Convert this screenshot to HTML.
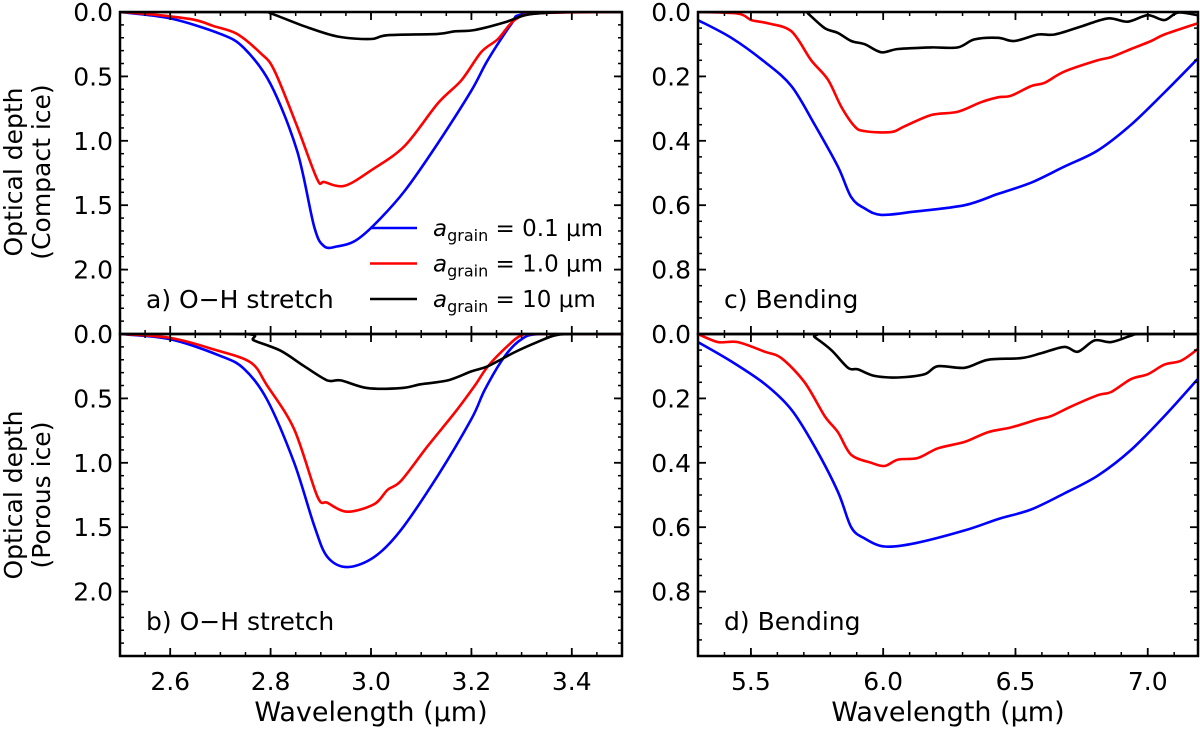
<!DOCTYPE html>
<html><head><meta charset="utf-8"><style>
body{margin:0;background:#fff;}
svg text{font-family:"DejaVu Sans","Liberation Sans",sans-serif;fill:#000;}
</style></head><body>
<svg id="fig" xmlns="http://www.w3.org/2000/svg" width="1200" height="728" viewBox="0 0 1200 728"></svg>
<script>
// Panel a: compact ice, O-H stretch
const aBlueX=[2.5,2.6,2.7,2.747,2.8,2.853,2.887,2.907,2.933,2.967,3.007,3.067,3.133,3.2,3.233,3.28,3.3,3.4,3.5];
const aBlueY=[0,0.05,0.17,0.28,0.56,1.08,1.67,1.82,1.82,1.78,1.65,1.39,1.02,0.61,0.37,0.09,0.02,0,0];
const aRedX=[2.5,2.567,2.647,2.687,2.733,2.78,2.807,2.853,2.893,2.907,2.947,3.0,3.067,3.133,3.18,3.22,3.253,3.287,3.333,3.5];
const aRedY=[0,0.02,0.06,0.11,0.17,0.32,0.45,0.89,1.30,1.32,1.35,1.23,1.04,0.71,0.53,0.31,0.21,0.06,0.01,0];
const aBlackX=[2.5,2.78,2.8,2.867,2.933,3.0,3.033,3.133,3.167,3.207,3.267,3.313,3.393,3.5];
const aBlackY=[0,0,0.01,0.11,0.19,0.21,0.18,0.17,0.15,0.14,0.08,0.02,0,0];
// Panel b: porous ice, O-H stretch
const bBlueX=[2.5,2.6,2.7,2.747,2.793,2.847,2.887,2.913,2.953,3.007,3.06,3.133,3.2,3.227,3.267,3.3,3.34,3.5];
const bBlueY=[0,0.04,0.17,0.27,0.51,1.0,1.49,1.73,1.81,1.73,1.52,1.10,0.66,0.43,0.17,0.04,0,0];
const bRedX=[2.5,2.6,2.687,2.76,2.793,2.847,2.893,2.913,2.953,3.007,3.033,3.06,3.113,3.167,3.207,3.233,3.273,3.3,3.333,3.5];
const bRedY=[0,0.03,0.12,0.22,0.40,0.74,1.26,1.31,1.38,1.32,1.21,1.14,0.87,0.61,0.40,0.25,0.09,0.01,0,0];
const bBlackX=[2.5,2.747,2.767,2.82,2.867,2.913,2.94,2.993,3.06,3.1,3.153,3.2,3.233,3.287,3.333,3.367,3.4,3.5];
const bBlackY=[0,0,0.05,0.13,0.25,0.36,0.36,0.42,0.42,0.39,0.36,0.29,0.25,0.14,0.06,0.01,0,0];
// Panel c: compact ice, bending
const cBlueX=[5.30,5.426,5.552,5.653,5.741,5.829,5.879,5.930,5.993,6.119,6.308,6.434,6.559,6.685,6.811,6.937,7.063,7.189];
const cBlueY=[0.025,0.08,0.155,0.23,0.35,0.48,0.575,0.61,0.63,0.62,0.60,0.565,0.53,0.48,0.43,0.35,0.25,0.145];
const cRedX=[5.30,5.451,5.502,5.564,5.653,5.728,5.791,5.842,5.892,5.930,6.03,6.081,6.182,6.282,6.37,6.434,6.484,6.559,6.61,6.685,6.811,6.862,6.937,7.013,7.063,7.189];
const cRedY=[0,0.005,0.025,0.035,0.06,0.15,0.21,0.295,0.355,0.37,0.373,0.355,0.32,0.31,0.28,0.265,0.26,0.23,0.22,0.185,0.15,0.14,0.115,0.09,0.07,0.035];
const cBlackX=[5.30,5.703,5.716,5.779,5.829,5.879,5.930,5.993,6.056,6.182,6.282,6.345,6.434,6.496,6.585,6.648,6.748,6.849,6.925,7.0,7.063,7.114,7.189];
const cBlackY=[0,0,0.005,0.05,0.065,0.09,0.10,0.125,0.115,0.11,0.11,0.085,0.08,0.09,0.07,0.07,0.045,0.02,0.03,0.01,0.025,0.002,0.01];
// Panel d: porous ice, bending
const dBlueX=[5.30,5.426,5.552,5.653,5.741,5.829,5.879,5.930,6.005,6.119,6.308,6.434,6.559,6.685,6.811,6.937,7.063,7.189];
const dBlueY=[0.025,0.085,0.155,0.235,0.35,0.49,0.60,0.635,0.66,0.65,0.61,0.575,0.545,0.495,0.44,0.36,0.255,0.14];
const dRedX=[5.30,5.376,5.451,5.552,5.615,5.703,5.779,5.829,5.879,5.955,6.005,6.056,6.131,6.207,6.308,6.396,6.484,6.585,6.635,6.711,6.811,6.862,6.937,7.0,7.063,7.126,7.189];
const dRedY=[0,0.025,0.025,0.055,0.075,0.15,0.255,0.305,0.375,0.40,0.41,0.39,0.385,0.355,0.335,0.305,0.29,0.265,0.255,0.225,0.19,0.18,0.14,0.125,0.095,0.083,0.047];
const dBlackX=[5.30,5.716,5.741,5.804,5.867,5.905,5.967,6.056,6.156,6.207,6.308,6.396,6.522,6.597,6.685,6.736,6.799,6.862,6.937,6.975,7.189];
const dBlackY=[0,0,0.01,0.05,0.105,0.11,0.13,0.135,0.125,0.10,0.105,0.08,0.075,0.06,0.04,0.055,0.02,0.025,0.005,0,0];

const leftXTicks=[2.6,2.8,3.0,3.2,3.4];
const leftXTickLabels=["2.6","2.8","3.0","3.2","3.4"];
const rightXTicks=[5.5,6.0,6.5,7.0];
const rightXTickLabels=["5.5","6.0","6.5","7.0"];
const leftYTicks=[0,0.5,1.0,1.5,2.0];
const leftYTickLabels=["0.0","0.5","1.0","1.5","2.0"];
const rightYTicks=[0,0.2,0.4,0.6,0.8];
const rightYTickLabels=["0.0","0.2","0.4","0.6","0.8"];
const legendLabels=["0.1 μm","1.0 μm","10 μm"];
const colors=["#0000ff","#ff0000","#000000"];

const NS="http://www.w3.org/2000/svg";
const svg=document.getElementById('fig');
function mk(tag,attrs,parent){const e=document.createElementNS(NS,tag);for(const k in attrs)e.setAttribute(k,attrs[k]);(parent||svg).appendChild(e);return e;}

function smoothPath(P){
  let d='M'+P[0][0].toFixed(1)+' '+P[0][1].toFixed(1);
  for(let i=0;i<P.length-1;i++){
    const p0=P[Math.max(0,i-1)],p1=P[i],p2=P[i+1],p3=P[Math.min(P.length-1,i+2)];
    const t=0.16;
    const c1=[p1[0]+(p2[0]-p0[0])*t,p1[1]+(p2[1]-p0[1])*t];
    const c2=[p2[0]-(p3[0]-p1[0])*t,p2[1]-(p3[1]-p1[1])*t];
    d+=' C'+c1[0].toFixed(1)+' '+c1[1].toFixed(1)+' '+c2[0].toFixed(1)+' '+c2[1].toFixed(1)+' '+p2[0].toFixed(1)+' '+p2[1].toFixed(1);
  }
  return d;
}

function panel(o){
  const g=mk('g',{});
  
  
  const sx=v=>o.x0+(v-o.xmin)/(o.xmax-o.xmin)*(o.x1-o.x0);
  const sy=v=>o.y0+(v-o.ymin)/(o.ymax-o.ymin)*(o.y1-o.y0);
  const clip=mk('clipPath',{id:'clip-'+o.name},g);
  mk('rect',{x:o.x0,y:o.y0,width:o.x1-o.x0,height:o.y1-o.y0},clip);
  o.series.forEach((s,i)=>{
    const pts=s.x.map((xv,j)=>[sx(xv),sy(s.y[j])]);
    const p=mk('path',{d:smoothPath(pts),fill:'none',stroke:colors[i],'stroke-width':2.6,'stroke-linejoin':'round','clip-path':'url(#clip-'+o.name+')'},g);
    
    
  });
  for(let v=Math.ceil(o.xmin/o.xminor-1e-6)*o.xminor;v<=o.xmax+1e-9;v+=o.xminor){
    const X=sx(v);
    mk('line',{x1:X,x2:X,y1:o.y1,y2:o.y1-4,stroke:'#000','stroke-width':1.5},g);
    mk('line',{x1:X,x2:X,y1:o.y0,y2:o.y0+4,stroke:'#000','stroke-width':1.5},g);
  }
  for(let v=o.ymin;v<=o.ymax+1e-9;v+=o.yminor){
    const Y=sy(v);
    mk('line',{x1:o.x0,x2:o.x0+4,y1:Y,y2:Y,stroke:'#000','stroke-width':1.5},g);
    mk('line',{x1:o.x1,x2:o.x1-4,y1:Y,y2:Y,stroke:'#000','stroke-width':1.5},g);
  }
  o.xt.forEach((v,i)=>{
    const X=sx(v);
    mk('line',{x1:X,x2:X,y1:o.y1,y2:o.y1-8,stroke:'#000','stroke-width':1.8},g);
    mk('line',{x1:X,x2:X,y1:o.y0,y2:o.y0+8,stroke:'#000','stroke-width':1.8},g);
    if(o.showX){
      const t=mk('text',{x:X,y:o.y1+34,'font-size':25,'text-anchor':'middle'},g);
      t.textContent=o.xtl[i];
      
      
    }
  });
  o.yt.forEach((v,i)=>{
    const Y=sy(v);
    mk('line',{x1:o.x0,x2:o.x0+8,y1:Y,y2:Y,stroke:'#000','stroke-width':1.8},g);
    mk('line',{x1:o.x1,x2:o.x1-8,y1:Y,y2:Y,stroke:'#000','stroke-width':1.8},g);
    const t=mk('text',{x:o.x0-7,y:Y+9,'font-size':25,'text-anchor':'end'},g);
    t.textContent=o.ytl[i];
    
    
  });
  const fr=mk('rect',{x:o.x0,y:o.y0,width:o.x1-o.x0,height:o.y1-o.y0,fill:'none',stroke:'#000','stroke-width':2.5},g);
  
  
  const lab=mk('text',{x:o.x0+26,y:o.y1-26,'font-size':25},g);
  lab.textContent=o.label;
  
  
  return {g,sx,sy};
}

const L={x0:120,x1:622,xmin:2.5,xmax:3.5,xminor:0.05,xt:leftXTicks,xtl:leftXTickLabels,ymin:0,ymax:2.5,yminor:0.1,yt:leftYTicks,ytl:leftYTickLabels};
const R={x0:698,x1:1198,xmin:5.3,xmax:7.19,xminor:0.1,xt:rightXTicks,xtl:rightXTickLabels,ymin:0,ymax:1.0,yminor:0.05,yt:rightYTicks,ytl:rightYTickLabels};
const T={y0:12,y1:334},B={y0:334,y1:656};
function ser(bx,by,rx,ry,kx,ky){return [{key:'0p1um',x:bx,y:by},{key:'1p0um',x:rx,y:ry},{key:'10um',x:kx,y:ky}];}

panel(Object.assign({},L,T,{name:'panel-a',label:'a) O−H stretch',showX:false,series:ser(aBlueX,aBlueY,aRedX,aRedY,aBlackX,aBlackY)}));
panel(Object.assign({},L,B,{name:'panel-b',label:'b) O−H stretch',showX:true,series:ser(bBlueX,bBlueY,bRedX,bRedY,bBlackX,bBlackY)}));
panel(Object.assign({},R,T,{name:'panel-c',label:'c) Bending',showX:false,series:ser(cBlueX,cBlueY,cRedX,cRedY,cBlackX,cBlackY)}));
panel(Object.assign({},R,B,{name:'panel-d',label:'d) Bending',showX:true,series:ser(dBlueX,dBlueY,dRedX,dRedY,dBlackX,dBlackY)}));

const lg=mk('g',{});


legendLabels.forEach((lbl,i)=>{
  const y=228+i*35.5;
  const ln=mk('line',{x1:370,x2:417,y1:y,y2:y,stroke:colors[i],'stroke-width':2.6},lg);
  
  
  const t=mk('text',{x:433,y:y+8,'font-size':23},lg);
  
  
  const a=mk('tspan',{'font-style':'italic'},t);a.textContent='a';
  const s=mk('tspan',{'font-size':16,dy:5},t);s.textContent='grain';
  const r=mk('tspan',{dy:-5},t);r.textContent=' = '+lbl;
});

[[172,'(Compact ice)'],[495,'(Porous ice)']].forEach(([cy,sub])=>{
  const t=mk('text',{transform:'translate(22,'+cy+') rotate(-90)','font-size':25,'text-anchor':'middle'});
  
  
  const t1=mk('tspan',{x:0,y:0},t);t1.textContent='Optical depth';
  const t2=mk('tspan',{x:0,y:28},t);t2.textContent=sub;
});
[371,948].forEach(cx=>{
  const t=mk('text',{x:cx,y:721,'font-size':27,'text-anchor':'middle'});
  t.textContent='Wavelength (μm)';
  
  
});
</script>
</body></html>
